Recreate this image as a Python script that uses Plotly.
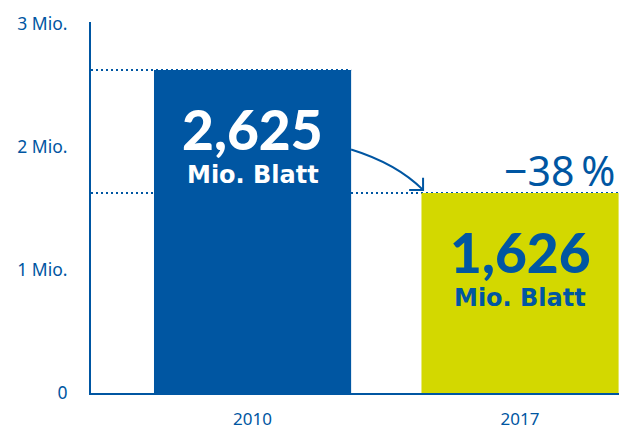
import plotly.graph_objects as go

# Paper consumption, in millions of sheets
years = ["2010", "2017"]
values = [2.625, 1.626]
bar_colors = ["#0056A2", "#D3D800"]
text_colors = ["#FFFFFF", "#0056A2"]
unit_label = "Mio. Blatt"
y_tick_vals = [0, 1, 2, 3]
y_tick_text = ["0", "1 Mio.", "2 Mio.", "3 Mio."]

BLUE = "#0056A2"
BAR_W = 0.737
X_RANGE = [-0.604, 1.370]
Y_RANGE = [0, 3.016]

x_pos = list(range(len(years)))

fig = go.Figure()
fig.add_trace(go.Bar(
    x=x_pos, y=values, width=BAR_W,
    marker=dict(color=bar_colors, line=dict(width=0)),
    hoverinfo="skip",
))

# dotted guide lines from the axis to each bar's right edge
shapes = []
for xi, v in zip(x_pos, values):
    shapes.append(dict(
        type="line", xref="x", yref="y", layer="below",
        x0=X_RANGE[0], x1=xi + BAR_W / 2, y0=v, y1=v,
        line=dict(color=BLUE, width=2, dash="2px,3px"),
    ))

# curved arrow from the 2010 bar down to the 2017 bar
x_start = x_pos[0] + BAR_W / 2
x_end = x_pos[1] - BAR_W / 2 + 0.006
y_start = 1.98
y_end = values[1] + 0.025
cx, cy = 0.539, 1.865
shapes.append(dict(
    type="path", xref="x", yref="y",
    path=f"M {x_start},{y_start} Q {cx},{cy} {x_end},{y_end}",
    line=dict(color=BLUE, width=2),
))
shapes.append(dict(
    type="path", xref="x", yref="y",
    path=(f"M {x_end - 0.052},{y_end} L {x_end},{y_end} "
          f"L {x_end},{y_end + 0.098}"),
    line=dict(color=BLUE, width=2),
))

annotations = []
for xi, v, tc in zip(x_pos, values, text_colors):
    num = f"{v:.3f}".replace(".", ",")
    annotations.append(dict(
        x=xi, y=v - 0.48, xref="x", yref="y", text=num, showarrow=False,
        font=dict(family="Lato Black, Lato", size=55, color=tc, weight=900),
        xanchor="center", yanchor="middle",
    ))
    annotations.append(dict(
        x=xi, y=v - 0.85, xref="x", yref="y", text=unit_label, showarrow=False,
        font=dict(family="DejaVu Sans", size=24, color=tc, weight="bold"),
        xanchor="center", yanchor="middle",
    ))

change = round((values[1] / values[0] - 1) * 100)
annotations.append(dict(
    x=x_pos[1] + BAR_W / 2 - 0.005, y=1.813, xref="x", yref="y",
    text=f"\u2212{abs(change)}\u202f%", showarrow=False,
    font=dict(family="Noto Sans", size=41, color=BLUE),
    xanchor="right", yanchor="middle",
))

fig.update_layout(
    width=627, height=429,
    margin=dict(l=91, r=8, t=22, b=36, autoexpand=False),
    paper_bgcolor="white", plot_bgcolor="white",
    showlegend=False,
    shapes=shapes, annotations=annotations,
    xaxis=dict(
        range=X_RANGE, tickvals=x_pos, ticktext=years,
        showline=True, linecolor=BLUE, linewidth=2,
        showgrid=False, zeroline=False, ticks="",
        tickfont=dict(family="Noto Sans", size=17, color=BLUE),
        ticklabelstandoff=10, automargin=False,
    ),
    yaxis=dict(
        range=Y_RANGE, tickvals=y_tick_vals, ticktext=y_tick_text,
        showline=True, linecolor=BLUE, linewidth=2,
        showgrid=False, zeroline=False, ticks="",
        tickfont=dict(family="Noto Sans", size=17.5, color=BLUE),
        ticklabelstandoff=18, automargin=False,
    ),
)

fig.write_html("out.html")
